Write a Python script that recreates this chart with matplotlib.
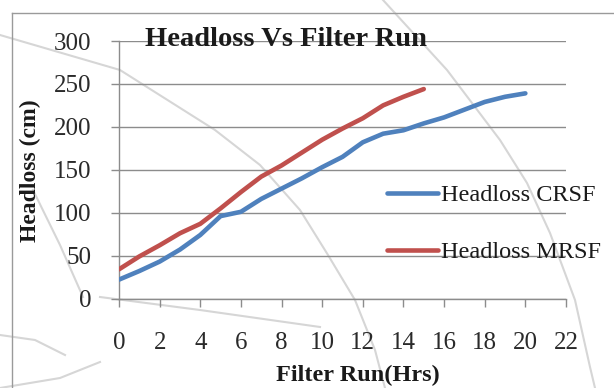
import matplotlib
matplotlib.use("Agg")
import matplotlib.pyplot as plt
from matplotlib.lines import Line2D
import numpy as np

# Data
hours_crsf = list(range(0, 21))
headloss_crsf = [22, 32, 43, 57, 74, 96, 101, 116, 128, 140, 153, 165, 182,
                 192, 196, 204, 211, 220, 229, 235, 239]
hours_mrsf = list(range(0, 16))
headloss_mrsf = [34, 49, 62, 76, 87, 105, 124, 142, 155, 170, 185, 198, 210,
                 225, 235, 244]

title = "Headloss Vs Filter Run"
xlabel = "Filter Run(Hrs)"
ylabel = "Headloss (cm)"
labels = ["Headloss CRSF", "Headloss MRSF"]
xticks = list(range(0, 23, 2))
yticks = list(range(0, 301, 50))

W, H = 614, 388
fig = plt.figure(figsize=(W / 100, H / 100), dpi=100)
serif = ["Liberation Serif", "DejaVu Serif"]

# faint watermark arcs (figure pixel coords, y from top)
def fig_curve(pts, **kw):
    xs = [p[0] / W for p in pts]
    ys = [1 - p[1] / H for p in pts]
    fig.add_artist(Line2D(xs, ys, transform=fig.transFigure, **kw))

wm = dict(color="#d6d6d6", lw=1.5, zorder=0)
fig_curve([(0, 35), (120, 70), (215, 130), (260, 165), (300, 210), (328, 255), (355, 300), (375, 350), (385, 388)], **wm)
fig_curve([(383, 0), (447, 70), (500, 140), (527, 183), (550, 233), (575, 300), (590, 367), (595, 388)], **wm)
fig_curve([(33, 190), (60, 245), (83, 297)], **wm)
fig_curve([(100, 297), (200, 310), (320, 327)], **wm)
fig_curve([(0, 335), (35, 340), (65, 355)], **wm)
fig_curve([(0, 388), (60, 378), (100, 362)], **wm)

# chart area border (left & top visible)
border = dict(color="#9a9a9a", lw=1.0)
fig_curve([(12, 13), (12, 388)], **border)
fig_curve([(12, 13), (614, 13)], **border)

ax = fig.add_axes([119 / W, 1 - 298.5 / H, (566 - 119) / W, (298.5 - 41) / H])
ax.patch.set_alpha(0)

ax.plot(hours_crsf, headloss_crsf, color="#4F81BD", lw=3.3, solid_joinstyle="round",
        solid_capstyle="round", label=labels[0], zorder=3)
ax.plot(hours_mrsf, headloss_mrsf, color="#C0504D", lw=3.3, solid_joinstyle="round",
        solid_capstyle="round", label=labels[1], zorder=3)

ax.set_xlim(0, 22)
ax.set_ylim(0, 300)
ax.set_xticks(xticks)
ax.set_yticks(yticks)
ax.grid(axis="y", color="#8c8c8c", lw=1.0)
ax.set_axisbelow(True)
for s in ["top", "right"]:
    ax.spines[s].set_visible(False)
for s in ["left", "bottom"]:
    ax.spines[s].set_color("#8c8c8c")
    ax.spines[s].set_linewidth(1.0)
ax.tick_params(axis="x", direction="out", length=6, width=1, color="#8c8c8c", pad=18,
               labelsize=18, labelcolor="#2a2a2a")
ax.tick_params(axis="y", direction="out", length=6, width=1, color="#8c8c8c", pad=14,
               labelsize=18, labelcolor="#2a2a2a")
for lab in ax.get_xticklabels() + ax.get_yticklabels():
    lab.set_family(serif)

fig.text(145 / W, 1 - 40 / H, title, family=serif, fontsize=20.5, fontweight="bold",
         ha="left", va="center", color="#1a1a1a")
fig.text(358 / W, 1 - 375 / H, xlabel, family=serif, fontsize=17.5, fontweight="bold",
         ha="center", va="center", color="#1a1a1a")
fig.text(30 / W, 1 - 171 / H, ylabel, family=serif, fontsize=17, fontweight="bold",
         ha="center", va="center", rotation=90, color="#1a1a1a")

leg = ax.legend(loc="upper left", bbox_to_anchor=(375 / W, 1 - 172 / H),
                bbox_transform=fig.transFigure, frameon=False,
                prop={"family": serif, "size": 17.5}, handlelength=2.1,
                handletextpad=0.1, labelspacing=1.45, borderpad=0)
for t in leg.get_texts():
    t.set_color("#1a1a1a")

fig.savefig("out.png", dpi=100)
